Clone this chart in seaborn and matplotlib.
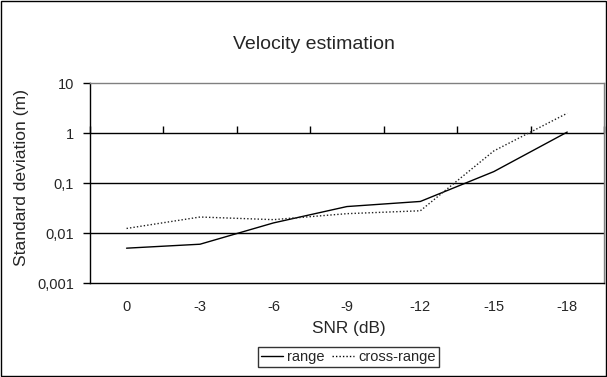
import matplotlib
matplotlib.use('Agg')
import matplotlib.pyplot as plt
import pandas as pd
import seaborn as sns
from matplotlib.patches import Rectangle

# values (log scale)
snr_labels = ['0', '-3', '-6', '-9', '-12', '-15', '-18']
range_std = [0.005, 0.006, 0.016, 0.034, 0.043, 0.17, 1.05]
cross_range_std = [0.0124, 0.021, 0.0186, 0.0245, 0.028, 0.44, 2.5]
y_ticks = [0.001, 0.01, 0.1, 1, 10]
y_tick_labels = ['0,001', '0,01', '0,1', '1', '10']

df = pd.DataFrame({
    'SNR': snr_labels * 2,
    'std': range_std + cross_range_std,
    'series': ['range'] * len(snr_labels) + ['cross-range'] * len(snr_labels),
})

sns.set_style('white')
plt.rcParams['font.family'] = ['Liberation Sans', 'DejaVu Sans']

fig = plt.figure(figsize=(6.07, 3.77), dpi=100)
ax = fig.add_axes([0.148, 0.249, 0.847, 0.5305])

sns.lineplot(data=df, x='SNR', y='std', hue='series', style='series',
             palette={'range': 'black', 'cross-range': '#202020'},
             dashes={'range': '', 'cross-range': (1, 1.5)},
             linewidth=1.0, ax=ax, legend=False, sort=False)

ax.set_yscale('log')
ax.set_ylim(0.001, 10)
ax.set_xlim(-0.5, len(snr_labels) - 0.5)
ax.set_yticks(y_ticks)
ax.set_yticklabels(y_tick_labels)
ax.yaxis.set_minor_locator(matplotlib.ticker.NullLocator())
ax.set_xticks(range(len(snr_labels)))
ax.set_xticklabels(snr_labels)
ax.tick_params(axis='x', length=0, labelsize=10.5, pad=12)
ax.tick_params(axis='y', length=5, width=1, direction='out', left=True,
               labelsize=10.5, pad=6.5, color='black')
ax.set_xlabel('')
ax.set_ylabel('')

for v in [0.01, 0.1, 1]:
    ax.axhline(v, color='black', linewidth=1.0, zorder=1)

for side in ['top', 'right']:
    ax.spines[side].set_color('#808080')
    ax.spines[side].set_linewidth(1.0)
for side in ['left', 'bottom']:
    ax.spines[side].set_color('black')
    ax.spines[side].set_linewidth(1.0)

# category axis crosses at y = 1
sec = ax.secondary_xaxis(0.75)
sec.set_xticks([i - 0.5 for i in range(len(snr_labels) + 1)])
sec.set_xticklabels([])
sec.tick_params(axis='x', direction='out', length=5, width=1, color='black')
sec.spines['bottom'].set_visible(False)
sec.spines['top'].set_visible(False)

fig.text(0.517, 0.883, 'Velocity estimation', ha='center', va='center', fontsize=14)
fig.text(0.575, 0.128, 'SNR (dB)', ha='center', va='center', fontsize=12.4)
fig.text(0.036, 0.529, 'Standard deviation (m)', ha='center', va='center',
         rotation=90, fontsize=12.6)

handles = [plt.Line2D([], [], color='black', linewidth=1.0),
           plt.Line2D([], [], color='black', linewidth=1.0, linestyle=(0, (1, 1.5)))]
leg = fig.legend(handles, ['range', 'cross-range'], loc='center',
                 bbox_to_anchor=(0.574, 0.052), ncol=2, fontsize=10.5,
                 frameon=True, fancybox=False, handlelength=1.5,
                 handletextpad=0.3, columnspacing=0.5, borderpad=0.2,
                 borderaxespad=0)
leg.get_frame().set_edgecolor('black')
leg.get_frame().set_linewidth(1.0)

fig.patches.append(Rectangle((0.001, 0.002), 0.997, 0.996, transform=fig.transFigure,
                             fill=False, edgecolor='black', linewidth=1.0))

fig.savefig('out.png', dpi=100)
